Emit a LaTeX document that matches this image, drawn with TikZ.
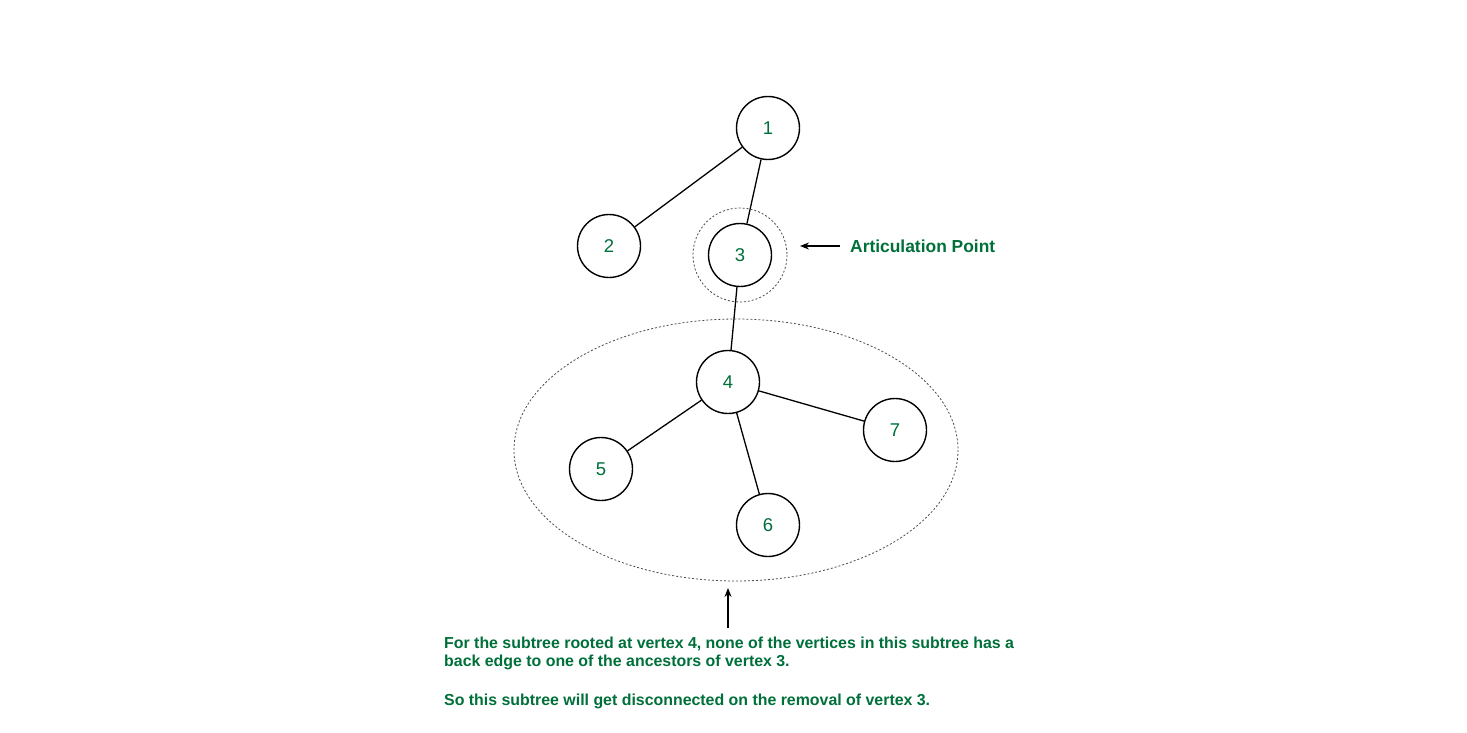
\documentclass[tikz,border=0pt]{standalone}
\usepackage{fontspec}
\setmainfont{Liberation Sans}
\usetikzlibrary{arrows.meta}
\definecolor{gfg}{RGB}{0,112,58}
\begin{document}
\begin{tikzpicture}[x=1pt,y=-1pt,
  vert/.style={circle,draw=black,line width=1.4pt,minimum size=63pt,inner sep=0pt,text=gfg,font=\fontsize{18.5}{20}\selectfont},
  edge/.style={draw=black,line width=1.3pt},
  dotted line/.style={draw=black!70,line width=0.8pt,dash pattern=on 2pt off 2pt},
  arr/.style={draw=black,line width=1.3pt,-{Stealth[length=9pt,width=7pt]}},
  lab/.style={text=gfg,font=\bfseries\fontsize{17.4}{19}\selectfont,inner sep=0pt}]
\useasboundingbox[fill=white] (0,0) rectangle (1467,733);
\node[vert] (n1) at (768,128) {1};
\node[vert] (n2) at (609,246) {2};
\node[vert] (n3) at (740,255) {3};
\node[vert] (n4) at (728,382) {4};
\node[vert] (n5) at (601,469) {5};
\node[vert] (n6) at (768,525) {6};
\node[vert] (n7) at (895,430) {7};
\draw[edge] (n1) -- (n2);
\draw[edge] (n1) -- (n3);
\draw[edge] (n3) -- (n4);
\draw[edge] (n4) -- (n5);
\draw[edge] (n4) -- (n6);
\draw[edge] (n4) -- (n7);
\draw[dotted line] (n3.center) circle[radius=47];
\draw[dotted line] (736,450) ellipse[x radius=222,y radius=131];
\node[lab,anchor=west] (ap) at (850,246) {Articulation Point};
\coordinate (apt) at (800,246);
\draw[arr] (ap.west) ++(-10,0) coordinate (aps) -- (apt);
\node[lab,anchor=north west,align=left,font=\bfseries\fontsize{15.9}{18}\selectfont] (txt) at (444,637) {For the subtree rooted at vertex 4, none of the vertices in this subtree has a\\back edge to one of the ancestors of vertex 3.\\[21pt]So this subtree will get disconnected on the removal of vertex 3.};
\coordinate (bt) at (728,588);
\coordinate (bs) at (728,628);
\draw[arr] (bs) -- (bt);
\end{tikzpicture}
\end{document}
